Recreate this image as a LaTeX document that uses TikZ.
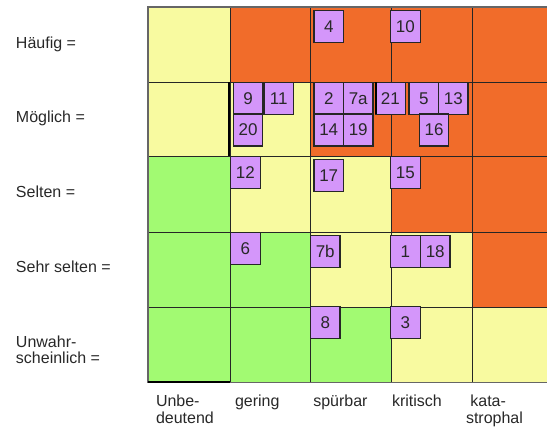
\documentclass[tikz,border=0pt]{standalone}
\usepackage{fontspec}
\setmainfont{Liberation Sans}
\definecolor{cy}{RGB}{248,250,160}
\definecolor{co}{RGB}{241,108,42}
\definecolor{cg}{RGB}{162,250,114}
\definecolor{cp}{RGB}{212,150,250}
\definecolor{ink}{RGB}{40,40,40}
\tikzset{
  cell/.style={draw=black!85, line width=0.8pt},
  rbox/.style={draw=black!85, fill=cp, line width=1.1pt, minimum width=29.5pt,
    minimum height=32pt, inner sep=0pt, outer sep=0pt, anchor=north west,
    font=\fontsize{17}{17.5}\selectfont, text=ink},
  lbl/.style={anchor=base west, inner sep=0pt, outer sep=0pt,
    font=\fontsize{16}{16.5}\selectfont, text=ink, align=left},
}
\begin{document}
\begin{tikzpicture}[x=1pt,y=-1pt]
\useasboundingbox (0,0) rectangle (547,427);
\begin{scope}
\clip (0,0) rectangle (547,427);
% cells: x0/x1/y0/y1/colour
\foreach \xa/\xb/\ya/\yb/\col in {
  148/230/7/82/cy, 230/310/7/82/co, 310/391/7/82/co, 391/472/7/82/co, 472/560/7/82/co,
  148/230/82/156.5/cy, 230/310/82/156.5/cy, 310/391/82/156.5/co, 391/472/82/156.5/co, 472/560/82/156.5/co,
  148/230/156.5/232/cg, 230/310/156.5/232/cy, 310/391/156.5/232/cy, 391/472/156.5/232/co, 472/560/156.5/232/co,
  148/230/232/307/cg, 230/310/232/307/cg, 310/391/232/307/cy, 391/472/232/307/cy, 472/560/232/307/co,
  148/230/307/382.5/cg, 230/310/307/382.5/cg, 310/391/307/382.5/cg, 391/472/307/382.5/cy, 472/560/307/382.5/cy}
  {\filldraw[cell, fill=\col] (\xa,\ya) rectangle (\xb,\yb);}
\draw[black!60, line width=1.5pt] (148,7) rectangle (560,382.5);
\draw[black, line width=2pt] (229,82) -- (229,156.5);
\draw[black, line width=2pt] (148,382.5) -- (230,382.5);
\end{scope}
% risk boxes
\node[rbox] (b4) at (314,10.7) {4};
\node[rbox] (b10) at (390.7,10.7) {10};
\node[rbox] (b9) at (233.3,82.3) {9};
\node[rbox] (b11) at (264,82.3) {11};
\node[rbox] (b20) at (233.3,114) {20};
\node[rbox] (b2) at (314,82.3) {2};
\node[rbox] (b7a) at (343.5,82.3) {7a};
\node[rbox] (b21) at (375.7,82.3) {21};
\draw[black, line width=1.8pt] (b21.north west) -- (b21.south west);
\node[rbox] (b5) at (409,82.3) {5};
\node[rbox] (b13) at (438.5,82.3) {13};
\node[rbox] (b14) at (314,114) {14};
\node[rbox] (b19) at (343.5,114) {19};
\node[rbox] (b16) at (419.3,114) {16};
\node[rbox] (b12) at (230.7,156.7) {12};
\node[rbox] (b17) at (314,159.3) {17};
\node[rbox] (b15) at (390.7,156.7) {15};
\node[rbox] (b6) at (230.7,232.7) {6};
\node[rbox] (b7b) at (310.5,235.7) {7b};
\node[rbox] (b1) at (390.7,235.7) {1};
\node[rbox] (b18) at (420.5,235.7) {18};
\node[rbox] (b8) at (310.5,306.7) {8};
\node[rbox] (b3) at (390.7,306.7) {3};
% row labels
\node[lbl] (lh) at (16,48.3) {Häufig =};
\node[lbl] (lm) at (16,123) {Möglich =};
\node[lbl] (ls) at (16,198) {Selten =};
\node[lbl] (lss) at (16,273) {Sehr selten =};
\node[lbl] (lu) at (16,364) {Unwahr-\\scheinlich =};
% column labels
\node[lbl] (cu) at (156,423.3) {Unbe-\\deutend};
\node[lbl] (cge) at (235,406.7) {gering};
\node[lbl] (csp) at (313.3,406.7) {spürbar};
\node[lbl] (ckr) at (392,406.7) {kritisch};
\node[lbl] (cka) at (466,423.3) {\hspace*{4.4pt}kata-\\strophal};
\end{tikzpicture}
\end{document}
